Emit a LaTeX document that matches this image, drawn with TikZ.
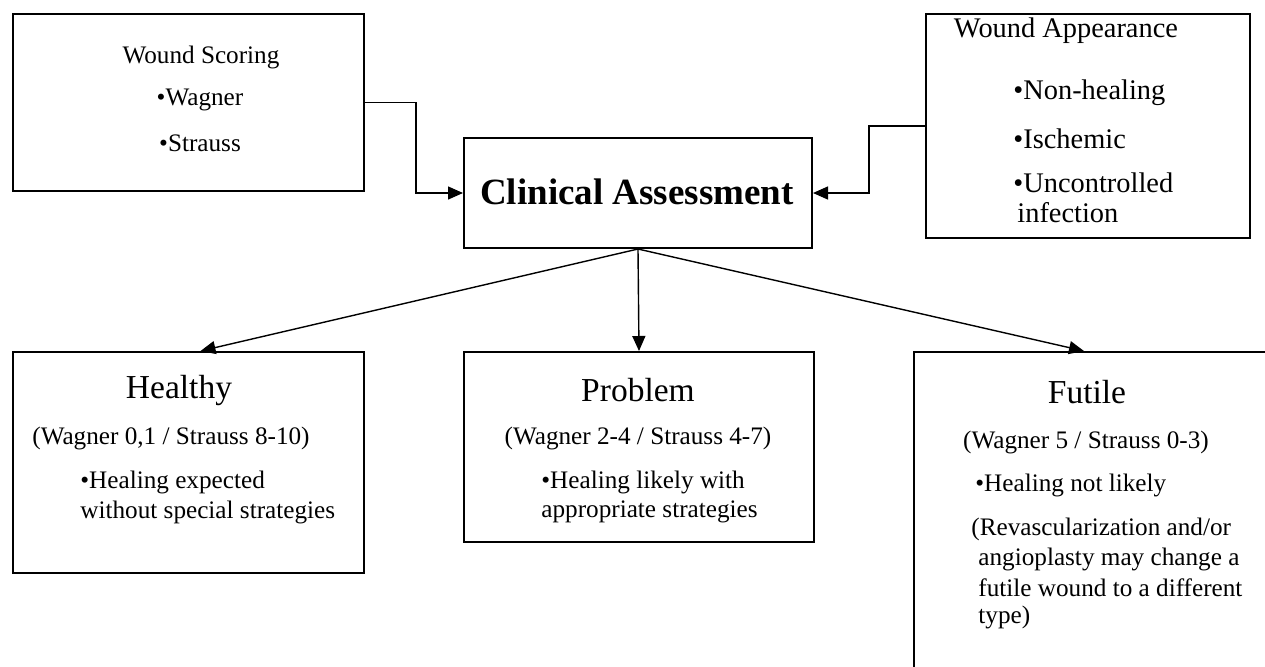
\documentclass[tikz,border=0pt]{standalone}
\usepackage{fontspec}
\setmainfont{Liberation Serif}
\usetikzlibrary{arrows.meta}

\tikzset{
  box/.style={draw, line width=1pt, inner sep=0pt, anchor=north west},
  txt/.style={font=\fontsize{12.6}{15}\selectfont, inner sep=0pt},
  bigtxt/.style={font=\fontsize{14.2}{17}\selectfont, inner sep=0pt},
  head/.style={font=\fontsize{16.75}{20}\selectfont, inner sep=0pt},
  link/.style={line width=0.7pt, -{Triangle[length=7.5pt,width=6.5pt]}},
}

\begin{document}
\begin{tikzpicture}[x=0.5pt, y=-0.5pt]
  \useasboundingbox (0,0) rectangle (1265,666);
  \clip (0,0) rectangle (1265,666);

  % boxes
  \node[box, minimum width=175.5pt, minimum height=88.5pt] (scoring) at (12,13) {};
  \node[box, minimum width=162pt, minimum height=112pt] (appearance) at (925,13) {};
  \node[box, minimum width=174pt, minimum height=55pt] (clinical) at (463,137) {};
  \node[box, minimum width=175.5pt, minimum height=110.5pt] (healthy) at (12,351) {};
  \node[box, minimum width=175pt, minimum height=95pt] (problem) at (463,351) {};
  \node[box, minimum width=200pt, minimum height=175pt] (futile) at (913,351) {};

  % texts
  \node[txt] (scoringhead) at (201,57) {Wound Scoring};
  \node[txt] (wagner) at (200,100) {•Wagner};
  \node[txt] (strauss) at (200,143) {•Strauss};

  \node[bigtxt] (apphead) at (1066,31) {Wound Appearance};
  \node[bigtxt, anchor=west] (nonhealing) at (1013,93) {•Non-healing};
  \node[bigtxt, anchor=west] (ischemic) at (1013,139) {•Ischemic};
  \node[bigtxt, anchor=west] (uncontrolled) at (1013,183) {•Uncontrolled};
  \node[bigtxt, anchor=west] (infection) at (1017,213) {infection};

  \node[font=\fontsize{18.5}{22}\selectfont\bfseries, inner sep=0pt] (clinicalhead) at (637,192) {Clinical Assessment};

  \node[head] (healthyhead) at (179,390) {Healthy};
  \node[txt] (healthyrange) at (171,438) {(Wagner 0,1 / Strauss 8-10)};
  \node[txt, anchor=west] (healthynote) at (80,482) {•Healing expected};
  \node[txt, anchor=west] (healthynote2) at (80,512) {without special strategies};

  \node[head] (problemhead) at (638,390) {Problem};
  \node[txt] (problemrange) at (638,438) {(Wagner 2-4 / Strauss 4-7)};
  \node[txt, anchor=west] (problemnote) at (541,482) {•Healing likely with};
  \node[txt, anchor=west] (problemnote2) at (541,512) {appropriate strategies};

  \node[head] (futilehead) at (1087,392) {Futile};
  \node[txt] (futilerange) at (1086,442) {(Wagner 5 / Strauss 0-3)};
  \node[txt, anchor=west] (futilenote) at (975,485) {•Healing not likely};
  \node[txt, anchor=west] (futilerevasc) at (971,529) {(Revascularization and/or};
  \node[txt, anchor=west] (futileangio) at (978,559) {angioplasty may change a};
  \node[txt, anchor=west] (futilewound) at (978,588) {futile wound to a different};
  \node[txt, anchor=west] (futiletype) at (978,617) {type)};

  % connectors
  \draw[link] (scoring.east) -- ++(51,0) |- (clinical.west);
  \draw[link] (appearance.west) -- ++(-56,0) |- (clinical.east);
  \draw[link] (clinical.south) -- ([xshift=6pt]healthy.north);
  \draw[link] (clinical.south) -- (problem.north);
  \draw[link] (clinical.south) -- ([xshift=85.5pt]futile.north west);
\end{tikzpicture}
\end{document}
